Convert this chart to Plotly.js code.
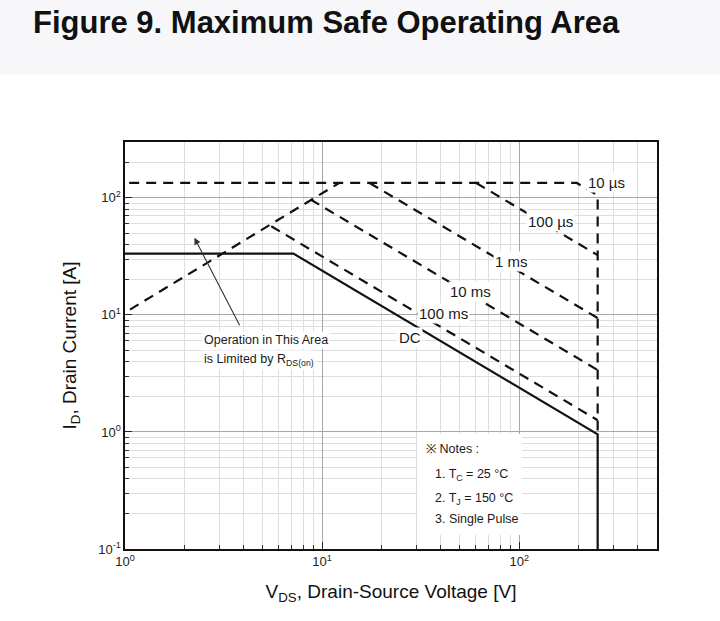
<!DOCTYPE html>
<html>
<head>
<meta charset="utf-8">
<script src="https://cdn.plot.ly/plotly-3.0.1.min.js"></script>
<style>
  html, body { margin: 0; padding: 0; background: #ffffff; }
  #chart { width: 720px; height: 621px; }
</style>
</head>
<body>
<div id="chart"></div>
<script>
// ---- data (V in volts, I in amps) ----
const dcV = [1, 7.15, 250, 250];
const dcI = [33.4, 33.4, 0.955, 0.1];

const rdsV = [1.06, 12.2];
const rdsI = [11.1, 134];

const us10V = [1.05, 196, 250, 250];
const us10I = [134, 134, 105, 0.955];

const us100V = [60.5, 250];
const us100I = [134, 32.4];

const ms1V = [17.4, 250];
const ms1I = [134, 9.4];

const ms10V = [8.74, 250];
const ms10I = [96.7, 3.38];

const ms100V = [5.52, 250];
const ms100I = [57.2, 1.26];

const xTickVals = [1, 10, 100];
const xTickText = ['10<sup>0</sup>', '10<sup>1</sup>', '10<sup>2</sup>'];
const yTickVals = [0.1, 1, 10, 100];
const yTickText = ['10<sup>-1</sup>', '10<sup>0</sup>', '10<sup>1</sup>', '10<sup>2</sup>'];

const FONT = '"Liberation Sans", Arial, sans-serif';
const dashStyle = '10px,7px';

function dashed(x, y, name) {
  return { x: x, y: y, name: name, type: 'scatter', mode: 'lines',
           line: { color: '#111111', width: 2.2, dash: dashStyle }, hoverinfo: 'skip' };
}

const traces = [
  dashed(rdsV, rdsI, 'RDS(on) limit'),
  dashed(us10V, us10I, '10 µs'),
  dashed(us100V, us100I, '100 µs'),
  dashed(ms1V, ms1I, '1 ms'),
  dashed(ms10V, ms10I, '10 ms'),
  dashed(ms100V, ms100I, '100 ms'),
  { x: dcV, y: dcI, name: 'DC', type: 'scatter', mode: 'lines',
    line: { color: '#111111', width: 2.2 }, hoverinfo: 'skip' }
];

// plot area in pixels: left 124.6, right 656.7, top 142.3, bottom 549
const L = 124.6, R = 656.7, T = 142.3, B = 549;
const px = v => (v - L) / (R - L);
const py = v => (B - v) / (B - T);

function lab(text, x, y, size, extra) {
  return Object.assign({ text: text, xref: 'paper', yref: 'paper', x: px(x), y: py(y),
    xanchor: 'left', yanchor: 'middle', showarrow: false,
    font: { family: FONT, size: size || 14, color: '#1a1a1a' },
    bgcolor: '#ffffff', borderpad: 1 }, extra || {});
}

const annotations = [
  lab('10 µs', 586, 183, 15),
  lab('100 µs', 526, 222, 15),
  lab('1 ms', 493, 262, 15),
  lab('10 ms', 448, 292, 15),
  lab('100 ms', 417, 314, 15),
  lab('DC', 397, 338, 15),
  lab('Operation in This Area', 202, 340, 12.5),
  lab('is Limited by R<sub>DS(on)</sub>', 202, 360, 12.5),
  lab('※ Notes :', 424, 449, 12.5),
  lab('1. T<sub>C</sub> = 25 °C', 433, 475, 12.5),
  lab('2. T<sub>J</sub> = 150 °C', 433, 499, 12.5),
  lab('3. Single Pulse', 433, 519, 12.5),
  { xref: 'paper', yref: 'paper', x: px(194), y: py(238), ax: px(240), ay: py(327),
    axref: 'paper', ayref: 'paper', text: '', showarrow: true,
    arrowhead: 2, arrowsize: 1.2, arrowwidth: 1.1, arrowcolor: '#333333' }
];

const shapes = [
  // notes box (white, hides grid)
  { type: 'rect', xref: 'paper', yref: 'paper', layer: 'above',
    x0: px(416.7), x1: px(521.7), y0: py(535), y1: py(434),
    fillcolor: '#ffffff', line: { width: 0 } },
  // light background band at the top of the page
  { type: 'rect', xref: 'paper', yref: 'paper', layer: 'below',
    x0: -1, x1: 2, y0: py(75), y1: py(0), fillcolor: '#f7f7f9', line: { width: 0 } }
];

const axisCommon = {
  type: 'log',
  showline: true, linecolor: '#111111', linewidth: 1.6, mirror: true,
  ticks: 'inside', ticklen: 7, tickcolor: '#222222', tickwidth: 1,
  showgrid: true, gridcolor: '#a8a8a8', gridwidth: 1,
  zeroline: false,
  tickfont: { family: FONT, size: 13, color: '#222222' },
  minor: { dtick: 'D1', showgrid: true, gridcolor: '#dedede', gridwidth: 1,
           ticks: 'inside', ticklen: 4, tickcolor: '#333333' }
};

const layout = {
  width: 720, height: 621,
  paper_bgcolor: '#ffffff', plot_bgcolor: '#ffffff',
  margin: { l: L, r: 720 - R, t: T, b: 621 - B, pad: 0 },
  showlegend: false,
  title: { text: '<b>Figure 9. Maximum Safe Operating Area</b>',
           font: { family: FONT, size: 31, color: '#111111' },
           x: 33 / 720, xanchor: 'left', xref: 'container',
           y: 1 - 22 / 621, yanchor: 'middle', yref: 'container' },
  xaxis: Object.assign({}, axisCommon, {
    range: [0, Math.log10(500)],
    tickvals: xTickVals, ticktext: xTickText,
    title: { text: 'V<sub>DS</sub>, Drain-Source Voltage [V]',
             font: { family: FONT, size: 19, color: '#111111' }, standoff: 16 }
  }),
  yaxis: Object.assign({}, axisCommon, {
    range: [-1, Math.log10(300)],
    tickvals: yTickVals, ticktext: yTickText,
    title: { text: 'I<sub>D</sub>, Drain Current [A]',
             font: { family: FONT, size: 19, color: '#111111' }, standoff: 16 }
  }),
  annotations: annotations,
  shapes: shapes
};

Plotly.newPlot('chart', traces, layout, { staticPlot: true, displayModeBar: false });
</script>
</body>
</html>
